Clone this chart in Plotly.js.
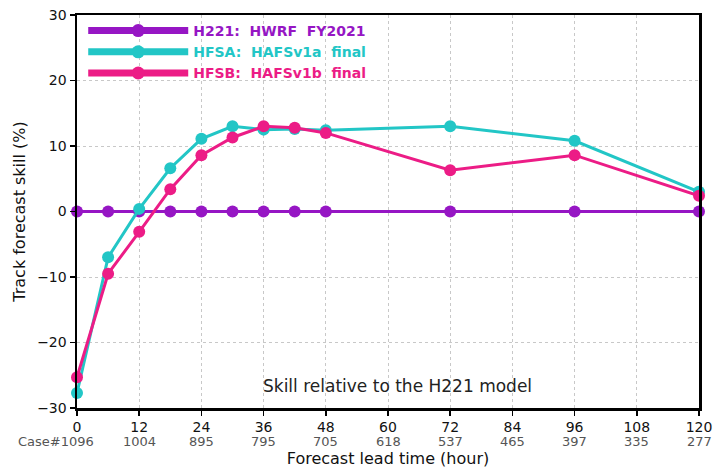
<!DOCTYPE html>
<html>
<head>
<meta charset="utf-8">
<script src="https://cdn.plot.ly/plotly-3.0.1.min.js"></script>
<style>html,body{margin:0;padding:0;background:#fff;}#chart{width:716px;height:468px;}</style>
</head>
<body>
<div id="chart"></div>
<script>
const leadHours = [0, 6, 12, 18, 24, 30, 36, 42, 48, 72, 96, 120];
const h221 = [0, 0, 0, 0, 0, 0, 0, 0, 0, 0, 0, 0];
const hfsa = [-27.7, -7.0, 0.4, 6.6, 11.1, 13.0, 12.5, 12.6, 12.4, 13.0, 10.8, 3.0];
const hfsb = [-25.3, -9.5, -3.1, 3.4, 8.6, 11.3, 13.0, 12.8, 12.0, 6.3, 8.6, 2.4];
const tickHours = [0, 12, 24, 36, 48, 60, 72, 84, 96, 108, 120];
const caseCounts = ["Case#1096", "1004", "895", "795", "705", "618", "537", "465", "397", "335", "277"];
const seriesNames = ["H221:  HWRF  FY2021", "HFSA:  HAFSv1a  final", "HFSB:  HAFSv1b  final"];
const colors = ["#9616c4", "#22c6c6", "#ec1c86"];

const font = "DejaVu Sans, sans-serif";
const dataSeries = [h221, hfsa, hfsb];
const traces = [];
dataSeries.forEach((ys, i) => {
  traces.push({
    x: leadHours, y: ys, type: "scatter", mode: "lines+markers",
    line: {color: colors[i], width: 3},
    marker: {color: colors[i], size: 12},
    showlegend: false, hoverinfo: "skip", cliponaxis: false
  });
});
dataSeries.forEach((ys, i) => {
  traces.push({
    x: [null], y: [null], type: "scatter", mode: "lines+markers",
    name: "<b><span style='color:" + colors[i] + "'>" + seriesNames[i] + "</span></b>",
    line: {color: colors[i], width: 7},
    marker: {color: colors[i], size: 13},
    showlegend: true
  });
});

const annotations = tickHours.map((h, i) => ({
  x: h, y: 0, xref: "x", yref: "paper", yshift: -33, xshift: i === 0 ? -21 : 0,
  text: caseCounts[i], showarrow: false,
  font: {family: font, size: 13, color: "#555"}, xanchor: "center", yanchor: "middle"
}));
annotations.push({
  x: 0.515, y: 0.055, xref: "paper", yref: "paper",
  text: "Skill relative to the H221 model", showarrow: false,
  font: {family: font, size: 17, color: "#222"}, xanchor: "center", yanchor: "middle"
});

const layout = {
  width: 716, height: 468,
  margin: {l: 77, r: 17, t: 15, b: 60},
  paper_bgcolor: "#fff", plot_bgcolor: "#fff",
  font: {family: font, color: "#111"},
  showlegend: true,
  legend: {
    x: 0.01, y: 1.0, xanchor: "left", yanchor: "top",
    bgcolor: "rgba(0,0,0,0)", itemwidth: 100, tracegroupgap: 0,
    font: {family: font, size: 14}
  },
  xaxis: {
    range: [0, 120], tickvals: tickHours, ticktext: tickHours.map(String),
    ticks: "outside", ticklen: 5, tickwidth: 1.5, tickcolor: "#000",
    showline: true, linecolor: "#000", linewidth: 2.5, mirror: true,
    showgrid: true, gridcolor: "#c8c8c8", griddash: "dot", gridwidth: 1,
    zeroline: false,
    tickfont: {family: font, size: 14, color: "#111"},
    title: {text: "Forecast lead time (hour)", font: {family: font, size: 16, color: "#111"}, standoff: 23}
  },
  yaxis: {
    range: [-30, 30], dtick: 10, tick0: 0,
    ticks: "outside", ticklen: 5, tickwidth: 1.5, tickcolor: "#000",
    showline: true, linecolor: "#000", linewidth: 2.5, mirror: true,
    showgrid: true, gridcolor: "#c8c8c8", griddash: "dot", gridwidth: 1,
    zeroline: false,
    tickfont: {family: font, size: 14, color: "#111"},
    title: {text: "Track forecast skill (%)", font: {family: font, size: 16, color: "#111"}, standoff: 8}
  },
  annotations: annotations
};

Plotly.newPlot("chart", traces, layout, {displayModeBar: false, staticPlot: true});
</script>
</body>
</html>
